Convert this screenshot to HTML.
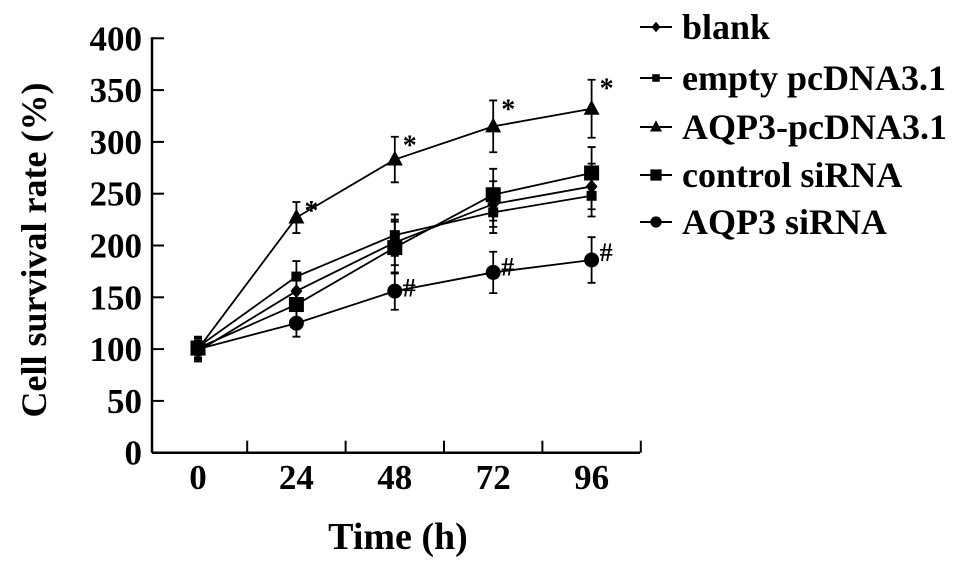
<!DOCTYPE html>
<html><head><meta charset="utf-8"><style>
body{margin:0;background:#fff;}
svg text{font-family:"Liberation Serif",serif;font-weight:bold;fill:#000;}
</style></head><body>
<svg id="chart" width="969" height="570" viewBox="0 0 969 570" xmlns="http://www.w3.org/2000/svg">
<g id="axes"></g>
<g id="plot"></g>
<g id="legend"></g>
<text transform="translate(46,250) rotate(-90)" text-anchor="middle" font-size="36">Cell survival rate (%)</text>
<text x="398" y="549" text-anchor="middle" font-size="38">Time (h)</text>
</svg>
<script>
const hours = [0, 24, 48, 72, 96];
const seriesNames = ["blank", "empty pcDNA3.1", "AQP3-pcDNA3.1", "control siRNA", "AQP3 siRNA"];
const markers = ["diamond", "smallsquare", "triangle", "square", "circle"];
const blankVals = [98, 156, 203, 240, 257];
const emptyVals = [102, 170, 210, 232, 248];
const aqpVals = [100, 227, 283, 315, 332];
const ctrlVals = [101, 143, 198, 249, 270];
const sirnaVals = [100, 125, 156, 174, 186];
const blankErr = [10, 15, 22, 22, 22];
const emptyErr = [10, 15, 20, 20, 20];
const aqpErr = [10, 15, 22, 25, 28];
const ctrlErr = [10, 15, 25, 25, 25];
const sirnaErr = [10, 13, 18, 20, 22];
const marks = [["", "", "", "", ""], ["", "", "", "", ""], ["", "*", "*", "*", "*"], ["", "", "", "", ""], ["", "", "#", "#", "#"]];
const yTicks = [0, 50, 100, 150, 200, 250, 300, 350, 400];
const xTicks = [0, 24, 48, 72, 96];
const allVals = [blankVals, emptyVals, aqpVals, ctrlVals, sirnaVals];
const allErr = [blankErr, emptyErr, aqpErr, ctrlErr, sirnaErr];

const NS = "http://www.w3.org/2000/svg";
const X0 = 152, X1 = 640, Y0 = 452.7;
const xs = h => 198 + h * 4.1;
const ys = v => Y0 - v * 1.0360;
function mk(tag, attrs, parent) { const e = document.createElementNS(NS, tag); for (const k in attrs) e.setAttribute(k, attrs[k]); parent.appendChild(e); return e; }
const axes = document.getElementById('axes'), plot = document.getElementById('plot'), legend = document.getElementById('legend');

let l = mk('line', {x1: X0, y1: ys(400) - 1, x2: X0, y2: Y0, stroke: '#000', 'stroke-width': 2.5}, axes);


l = mk('line', {x1: X0, y1: Y0, x2: X1, y2: Y0, stroke: '#000', 'stroke-width': 2.5}, axes);


yTicks.forEach(v => {
  const t = mk('line', {x1: X0, y1: ys(v), x2: X0 + 12, y2: ys(v), stroke: '#000', 'stroke-width': 2}, axes);
  
  
  const tx = mk('text', {x: X0 - 10, y: ys(v) + 12, 'text-anchor': 'end', 'font-size': 35}, axes);
  tx.textContent = v;
  
  
});
xTicks.forEach(h => {
  const tx = mk('text', {x: xs(h), y: 489, 'text-anchor': 'middle', 'font-size': 35}, axes);
  tx.textContent = h;
  
  
});
[12, 36, 60, 84, 108].forEach(h => {
  const t = mk('line', {x1: xs(h), y1: Y0, x2: xs(h), y2: Y0 - 12, stroke: '#000', 'stroke-width': 2}, axes);
  
  
});

function marker(type, x, y, parent, s) {
  s = s || 1;
  let e;
  if (type === 'diamond') e = mk('polygon', {points: `${x},${y-7*s} ${x+6*s},${y} ${x},${y+7*s} ${x-6*s},${y}`}, parent);
  else if (type === 'smallsquare') e = mk('rect', {x: x-5*s, y: y-5*s, width: 10*s, height: 10*s}, parent);
  else if (type === 'triangle') e = mk('polygon', {points: `${x},${y-9*s} ${x+8*s},${y+6*s} ${x-8*s},${y+6*s}`}, parent);
  else if (type === 'square') e = mk('rect', {x: x-7.5*s, y: y-7.5*s, width: 15*s, height: 15*s}, parent);
  else e = mk('circle', {cx: x, cy: y, r: 7.5*s}, parent);
  e.setAttribute('fill', '#000');
  return e;
}

allVals.forEach((vals, si) => {
  const g = mk('g', {}, plot);
  
  
  const pl = mk('polyline', {points: vals.map((v, i) => xs(hours[i]) + ',' + ys(v)).join(' '), fill: 'none', stroke: '#000', 'stroke-width': 1.8}, g);
  
  
  vals.forEach((v, i) => {
    const x = xs(hours[i]), e = allErr[si][i];
    const eb = mk('path', {d: `M${x},${ys(v+e)}V${ys(v-e)}M${x-4},${ys(v+e)}H${x+4}M${x-4},${ys(v-e)}H${x+4}`, stroke: '#000', 'stroke-width': 1.8, fill: 'none'}, g);
    
    
    const m = marker(markers[si], x, ys(v), g);
    
    
    const s = marks[si][i];
    if (s) {
      const t = mk('text', {x: x + 8, y: ys(v + e) + (s === '*' ? 18 : 24), 'font-size': s === '*' ? 28 : 26, 'font-weight': 'normal'}, g);
      t.textContent = s;
      
      
    }
  });
});

const legY = [27, 78, 127, 175, 222];
seriesNames.forEach((n, i) => {
  const g = mk('g', {}, legend);
  
  
  mk('line', {x1: 640, y1: legY[i], x2: 672, y2: legY[i], stroke: '#000', 'stroke-width': 2}, g);
  marker(markers[i], 656, legY[i], g, 0.75);
  const t = mk('text', {x: 682, y: legY[i] + 12, 'font-size': 36}, g);
  t.textContent = n;
});
</script>
</body></html>
